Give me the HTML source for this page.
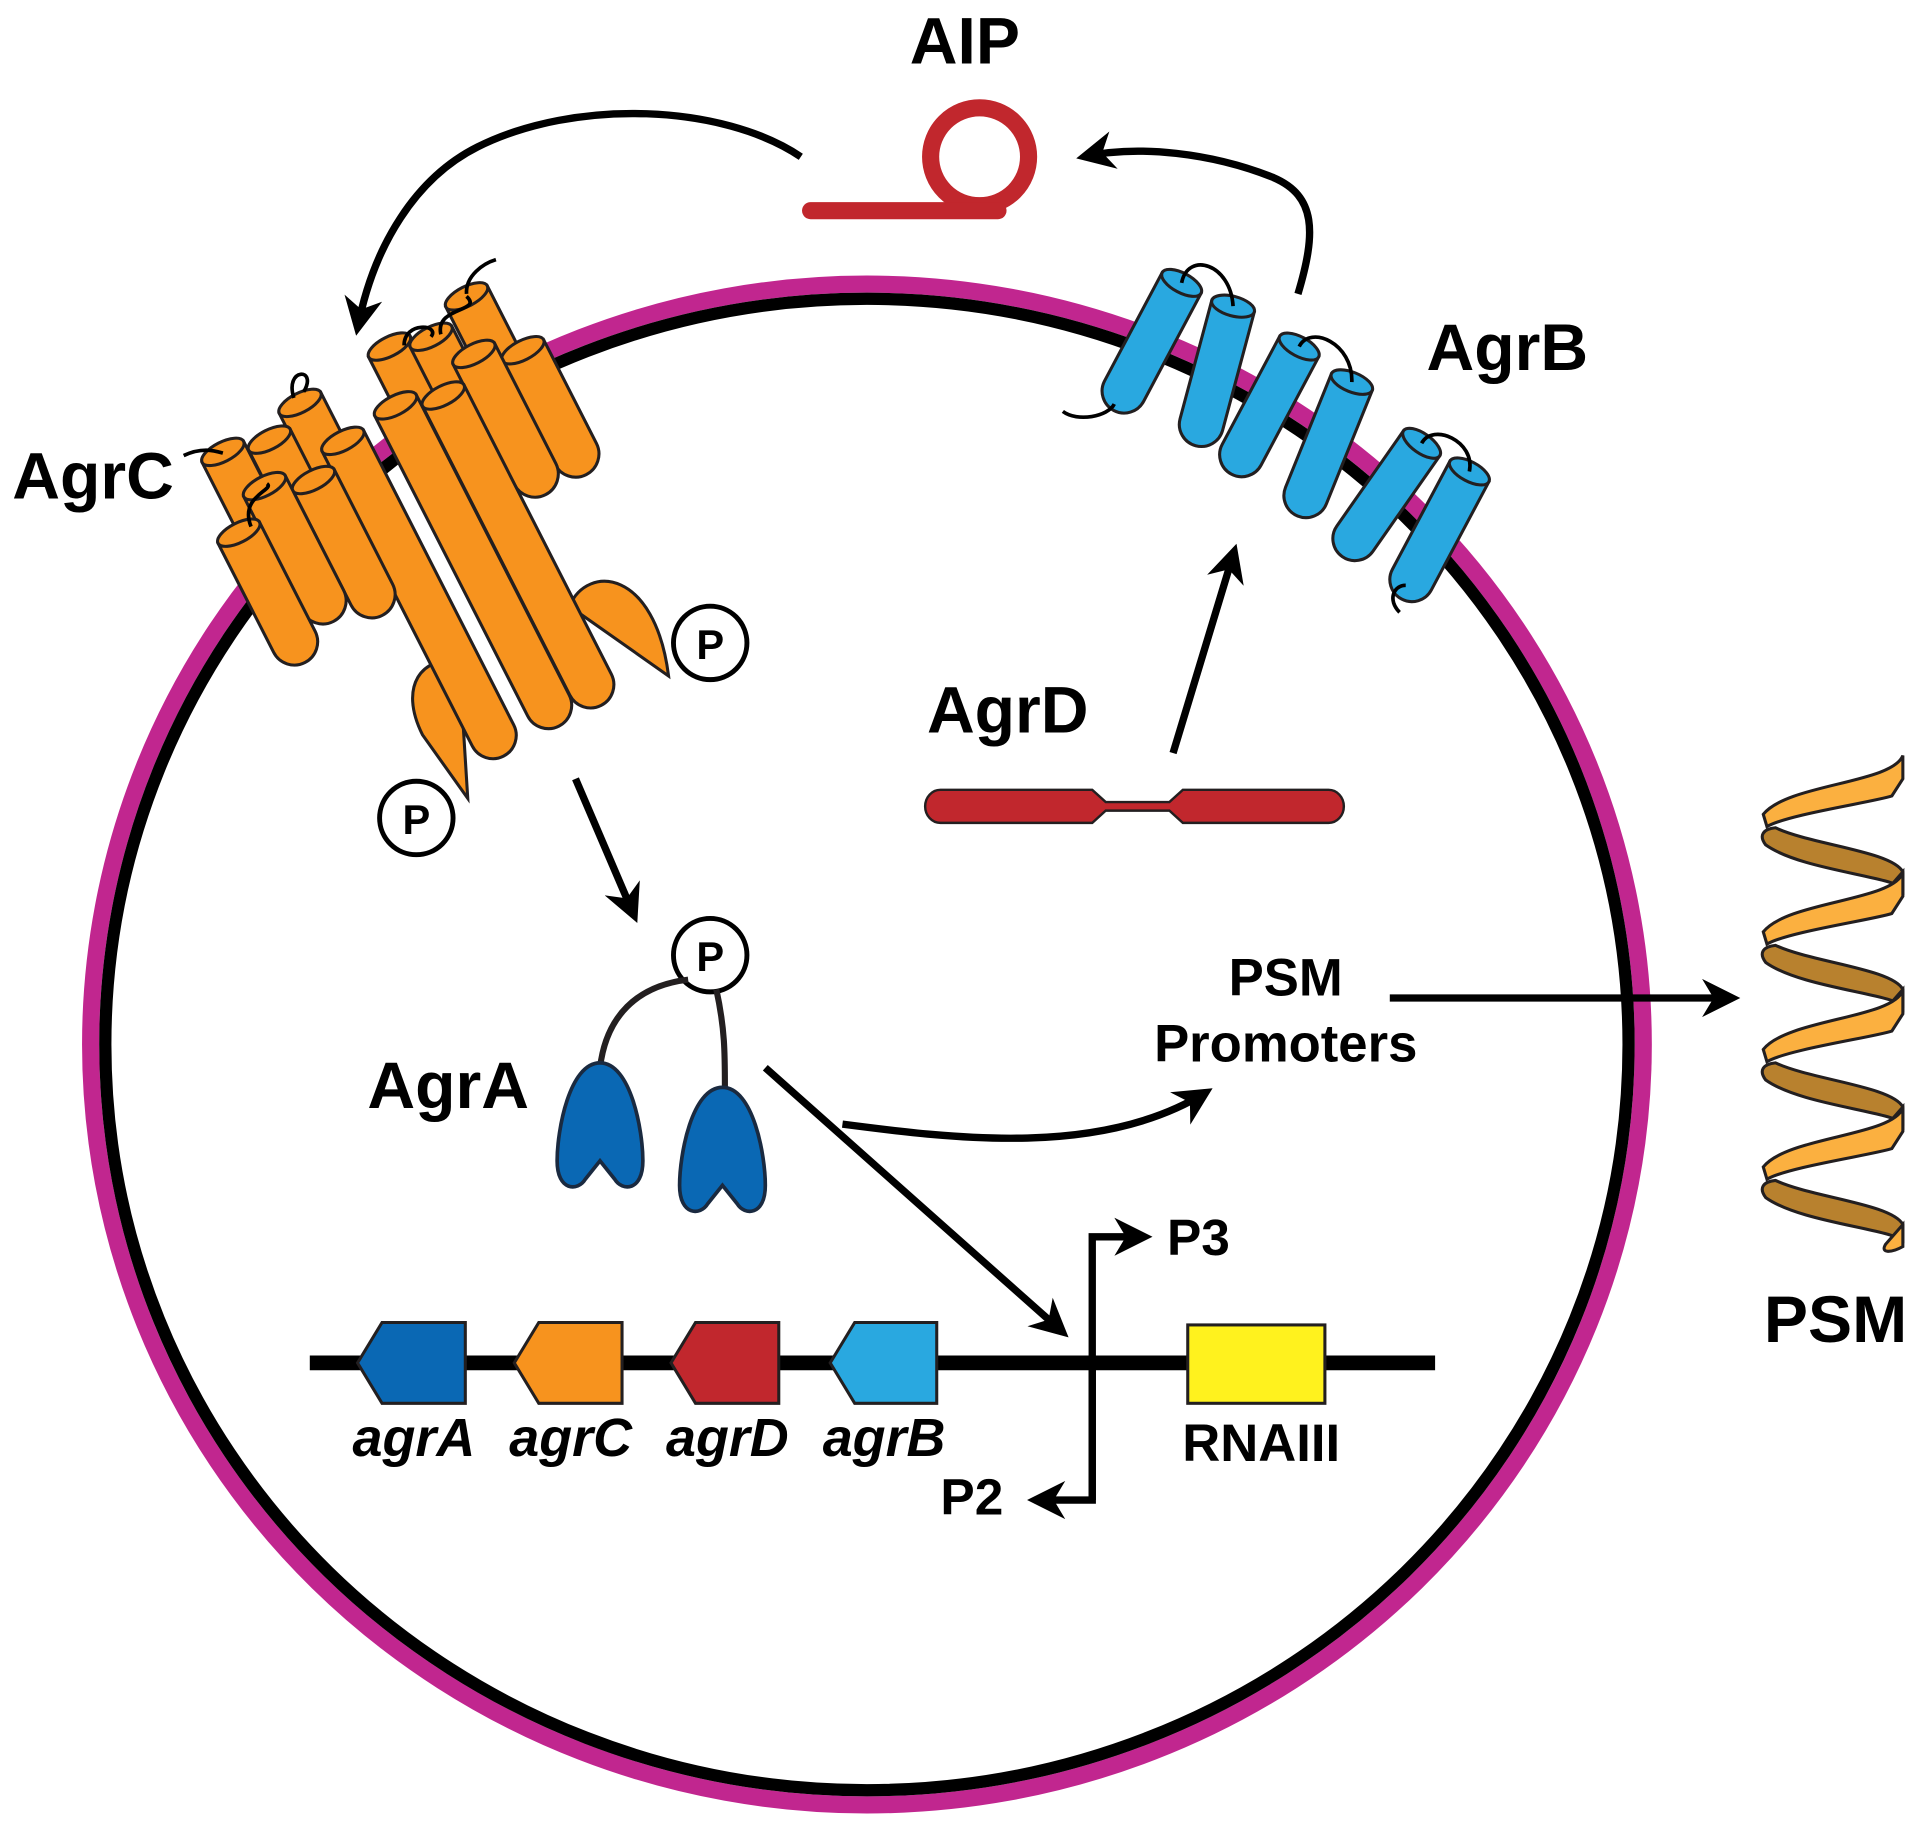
<!DOCTYPE html>
<html><head><meta charset="utf-8"><style>
html,body{margin:0;padding:0;background:#fff}
svg{display:block}
text{font-family:"Liberation Sans",Arial,sans-serif;font-weight:bold;fill:#000}
</style></head><body>
<svg width="1920" height="1827" viewBox="0 0 1568 1492" xmlns="http://www.w3.org/2000/svg">
<defs>
<marker id="ah" viewBox="0 0 10 10" refX="8" refY="5" markerWidth="5.2" markerHeight="5.2" orient="auto">
<path d="M0,0 L10,5 L0,10 L3,5 Z" fill="#000"/></marker>
</defs>
<!-- cell -->
<ellipse cx="708" cy="853" rx="634" ry="621" fill="none" stroke="#c1268f" stroke-width="14"/>
<ellipse cx="708" cy="853" rx="622" ry="609" fill="none" stroke="#000" stroke-width="10"/>

<!-- AIP -->
<circle cx="800" cy="128" r="40" fill="none" stroke="#c1272d" stroke-width="14"/>
<path d="M662,172 H815" stroke="#c1272d" stroke-width="14" stroke-linecap="round" fill="none"/>
<text x="788" y="52" font-size="54" text-anchor="middle">AIP</text>

<!-- curved arrows -->
<path d="M654,128 C590,85 470,80 390,120 C340,145 305,200 292,268" fill="none" stroke="#000" stroke-width="6" marker-end="url(#ah)"/>
<path d="M1060,240 C1075,190 1075,160 1040,145 C990,125 930,118 885,128" fill="none" stroke="#000" stroke-width="6" marker-end="url(#ah)"/>

<!-- AgrC -->
<g fill="#f7931e" stroke="#231f20" stroke-width="2.5">
<path d="M345,600 C325,560 345,535 375,540 L382,652 Z"/>
<path d="M465,495 C480,460 535,465 546,552 Z"/>
<g transform="translate(381,242) rotate(-27)"><path d="M-19,0 V110 A19,19 0 0 0 19,110 V0 Z"/><ellipse rx="19" ry="8"/></g>
<g transform="translate(318,283) rotate(-27)"><path d="M-19,0 V110 A19,19 0 0 0 19,110 V0 Z"/><ellipse rx="19" ry="8"/></g>
<g transform="translate(352,275) rotate(-27)"><path d="M-19,0 V110 A19,19 0 0 0 19,110 V0 Z"/><ellipse rx="19" ry="8"/></g>
<g transform="translate(427,286) rotate(-27)"><path d="M-19,0 V95 A19,19 0 0 0 19,95 V0 Z"/><ellipse rx="19" ry="8"/></g>
<g transform="translate(387,289) rotate(-27)"><path d="M-19,0 V110 A19,19 0 0 0 19,110 V0 Z"/><ellipse rx="19" ry="8"/></g>
<g transform="translate(362,323) rotate(-27)"><path d="M-19,0 V265 A19,19 0 0 0 19,265 V0 Z"/><ellipse rx="19" ry="8"/></g>
<g transform="translate(323,331) rotate(-27)"><path d="M-19,0 V275 A19,19 0 0 0 19,275 V0 Z"/><ellipse rx="19" ry="8"/></g>
<g transform="translate(245,329) rotate(-27)"><path d="M-19,0 V110 A19,19 0 0 0 19,110 V0 Z"/><ellipse rx="19" ry="8"/></g>
<g transform="translate(220,359) rotate(-27)"><path d="M-19,0 V110 A19,19 0 0 0 19,110 V0 Z"/><ellipse rx="19" ry="8"/></g>
<g transform="translate(182,369) rotate(-27)"><path d="M-19,0 V110 A19,19 0 0 0 19,110 V0 Z"/><ellipse rx="19" ry="8"/></g>
<g transform="translate(280,360) rotate(-27)"><path d="M-19,0 V270 A19,19 0 0 0 19,270 V0 Z"/><ellipse rx="19" ry="8"/></g>
<g transform="translate(256,392) rotate(-27)"><path d="M-19,0 V105 A19,19 0 0 0 19,105 V0 Z"/><ellipse rx="19" ry="8"/></g>
<g transform="translate(216,397) rotate(-27)"><path d="M-19,0 V105 A19,19 0 0 0 19,105 V0 Z"/><ellipse rx="19" ry="8"/></g>
<g transform="translate(195,435) rotate(-27)"><path d="M-19,0 V100 A19,19 0 0 0 19,100 V0 Z"/><ellipse rx="19" ry="8"/></g>
</g>
<g fill="none" stroke="#000" stroke-width="3">
<path d="M150,372 C165,365 175,368 182,370"/>
<path d="M240,325 C232,300 260,300 248,320"/>
<path d="M360,273 C355,250 395,255 381,242"/>
<path d="M381,240 C380,225 395,215 405,212"/>
<path d="M205,430 C195,405 225,400 218,395"/>
<path d="M330,282 C330,262 360,265 352,275"/>
</g>
<text x="10" y="407" font-size="54">AgrC</text>

<!-- P circles -->
<g fill="#fff" stroke="#000" stroke-width="4">
<circle cx="580" cy="525" r="30"/><circle cx="340" cy="668" r="30"/><circle cx="580" cy="780" r="30"/>
</g>
<g font-size="34" text-anchor="middle"><text x="580" y="538">P</text><text x="340" y="681">P</text><text x="580" y="793">P</text></g>

<!-- AgrB -->
<g fill="#29a8e0" stroke="#231f20" stroke-width="2.5">
<g transform="translate(965,231) rotate(28)"><path d="M-18,0 V100 A18,18 0 0 0 18,100 V0 Z"/><ellipse rx="18" ry="8"/></g>
<g transform="translate(1007,250) rotate(15)"><path d="M-18,0 V100 A18,18 0 0 0 18,100 V0 Z"/><ellipse rx="18" ry="8"/></g>
<g transform="translate(1061,283) rotate(28)"><path d="M-18,0 V100 A18,18 0 0 0 18,100 V0 Z"/><ellipse rx="18" ry="8"/></g>
<g transform="translate(1104,312) rotate(22)"><path d="M-18,0 V100 A18,18 0 0 0 18,100 V0 Z"/><ellipse rx="18" ry="8"/></g>
<g transform="translate(1161,362) rotate(35)"><path d="M-18,0 V95 A18,18 0 0 0 18,95 V0 Z"/><ellipse rx="18" ry="8"/></g>
<g transform="translate(1200,385) rotate(28)"><path d="M-18,0 V100 A18,18 0 0 0 18,100 V0 Z"/><ellipse rx="18" ry="8"/></g>
</g>
<g fill="none" stroke="#000" stroke-width="3">
<path d="M965,231 C970,205 1005,215 1007,250"/>
<path d="M1061,283 C1070,265 1105,280 1104,312"/>
<path d="M1161,362 C1170,345 1205,360 1200,385"/>
<path d="M868,336 C880,345 905,340 910,330"/>
<path d="M1143,500 C1133,490 1138,478 1148,478"/>
</g>
<text x="1165" y="302" font-size="54">AgrB</text>

<!-- AgrD -->
<path d="M768,645 H892 L903,655 H955 L966,645 H1085 A12,13 0 0 1 1085,672 H966 L955,662 H903 L892,672 H768 A12,13 0 0 1 768,645 Z" fill="#c1272d" stroke="#231f20" stroke-width="2"/>
<text x="757" y="598" font-size="54">AgrD</text>
<line x1="958" y1="615" x2="1008" y2="450" stroke="#000" stroke-width="6" marker-end="url(#ah)"/>

<!-- arrows -->
<line x1="470" y1="636" x2="518" y2="748" stroke="#000" stroke-width="6" marker-end="url(#ah)"/>
<line x1="625" y1="872" x2="868" y2="1088" stroke="#000" stroke-width="6" marker-end="url(#ah)"/>
<path d="M688,918 C780,930 900,945 985,892" fill="none" stroke="#000" stroke-width="6" marker-end="url(#ah)"/>
<line x1="1135" y1="815" x2="1415" y2="815" stroke="#000" stroke-width="6" marker-end="url(#ah)"/>

<!-- AgrA -->
<path d="M562,800 C520,805 495,830 490,872" fill="none" stroke="#231f20" stroke-width="5"/>
<path d="M585,808 C592,840 592,860 592,888" fill="none" stroke="#231f20" stroke-width="5"/>
<g fill="#0a68b4" stroke="#1a2a40" stroke-width="3">
<path transform="translate(490,918)" d="M0,-50 C25,-50 35,5 35,30 C35,55 18,55 12,45 L0,30 L-12,45 C-18,55 -35,55 -35,30 C-35,5 -25,-50 0,-50 Z"/>
<path transform="translate(590,938)" d="M0,-50 C25,-50 35,5 35,30 C35,55 18,55 12,45 L0,30 L-12,45 C-18,55 -35,55 -35,30 C-35,5 -25,-50 0,-50 Z"/>
</g>
<text x="300" y="905" font-size="54">AgrA</text>

<text x="1050" y="813" font-size="43" text-anchor="middle">PSM</text>
<text x="1050" y="867" font-size="43" text-anchor="middle">Promoters</text>

<!-- DNA -->
<line x1="253" y1="1113" x2="1172" y2="1113" stroke="#000" stroke-width="12"/>
<g stroke="#231f20" stroke-width="2.5">
<path d="M312,1080 H380 V1146 H312 L292,1113 Z" fill="#0a68b4"/>
<path d="M440,1080 H508 V1146 H440 L420,1113 Z" fill="#f7931e"/>
<path d="M568,1080 H636 V1146 H568 L548,1113 Z" fill="#c1272d"/>
<path d="M698,1080 H765 V1146 H698 L678,1113 Z" fill="#29a8e0"/>
<rect x="970" y="1082" width="112" height="64" fill="#fff21e"/>
</g>
<g font-size="44" font-style="italic" text-anchor="middle">
<text x="338" y="1189">agrA</text><text x="466" y="1189">agrC</text><text x="594" y="1189">agrD</text><text x="722" y="1189">agrB</text>
</g>
<text x="1030" y="1193" font-size="43" text-anchor="middle">RNAIII</text>
<path d="M892,1225 V1010 H935" fill="none" stroke="#000" stroke-width="6" marker-end="url(#ah)"/>
<path d="M892,1110 V1225 H845" fill="none" stroke="#000" stroke-width="6" marker-end="url(#ah)"/>
<text x="953" y="1025" font-size="42">P3</text>
<text x="768" y="1237" font-size="42">P2</text>

<!-- PSM helix -->
<g stroke="#231f20" stroke-width="2.5">
<g id="turn">
<path d="M1443,675 C1460,665 1530,655 1545,650 L1554,636 L1554,617 C1545,640 1460,640 1440,665 Z" fill="#fbb040"/>
<path d="M1450,676 C1480,690 1545,695 1554,712 L1554,725 C1540,715 1470,710 1442,690 C1436,682 1440,677 1450,676 Z" fill="#b8812e"/>
<path d="M1554,712 L1554,730 C1545,735 1535,736 1540,728 Z" fill="#fbb040"/>
</g>
<use href="#turn" y="96"/><use href="#turn" y="192"/><use href="#turn" y="288"/>
</g>
<text x="1499" y="1096" font-size="54" text-anchor="middle">PSM</text>
</svg>
</body></html>
